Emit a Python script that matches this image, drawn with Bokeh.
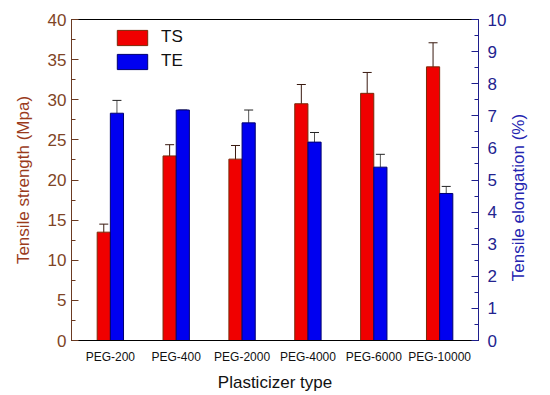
import math
from bokeh.plotting import figure
from bokeh.models import (ColumnDataSource, Range1d, LinearAxis, SingleIntervalTicker,
                          FixedTicker, Whisker, TeeHead, Legend, LegendItem, Label)
from bokeh.transform import dodge
from bokeh.embed import file_html
from bokeh.resources import INLINE

categories = ["PEG-200", "PEG-400", "PEG-2000", "PEG-4000", "PEG-6000", "PEG-10000"]
ts_values = [13.5, 23.0, 22.6, 29.5, 30.8, 34.1]
ts_errors = [1.0, 1.4, 1.7, 2.4, 2.6, 3.0]
te_values = [7.08, 7.18, 6.78, 6.18, 5.40, 4.58]
te_errors = [0.40, 0.0, 0.40, 0.30, 0.40, 0.22]

positions = list(range(len(categories)))
src = ColumnDataSource(dict(
    x=positions,
    ts=ts_values,
    ts_up=[v + e for v, e in zip(ts_values, ts_errors)],
    ts_lo=[v - e for v, e in zip(ts_values, ts_errors)],
    te=te_values,
    te_up=[v + e for v, e in zip(te_values, te_errors)],
))

FONT = "Liberation Sans"
LEFT_TICK = "#7f4526"
LEFT_TITLE = "#9a3b1c"
RIGHT_TICK = "#23238f"
RIGHT_TITLE = "#2424b0"

p = figure(width=550, height=395, output_backend="svg", toolbar_location=None,
           x_range=Range1d(-0.59, 5.59), y_range=Range1d(0, 40),
           min_border_left=71, min_border_right=72, min_border_top=19, min_border_bottom=55,
           y_axis_location=None, x_axis_location=None)
p.grid.visible = False
p.outline_line_color = "black"
p.outline_line_width = 1
p.background_fill_color = "white"
p.border_fill_color = "white"

p.extra_y_ranges = {"te": Range1d(0, 10)}

# bars
r_ts = p.vbar(x=dodge("x", -0.1), top="ts", width=0.2, source=src,
              fill_color="#f00000", line_color="#7a2a08", line_width=1)
r_te = p.vbar(x=dodge("x", 0.1), top="te", width=0.2, source=src, y_range_name="te",
              fill_color="#0000f0", line_color="#00006e", line_width=1)

# error bars
w1 = Whisker(source=src, base=dodge("x", -0.1), upper="ts_up", lower="ts_lo",
             line_color="#3a1a10", line_width=1,
             upper_head=TeeHead(size=9, line_color="#3a1a10", line_width=1), lower_head=None)
w2 = Whisker(source=src, base=dodge("x", 0.1), upper="te_up", lower="te", y_range_name="te",
             line_color="#555555", line_width=1,
             upper_head=TeeHead(size=9, line_color="#222222", line_width=1), lower_head=None)
p.add_layout(w1)
p.add_layout(w2)

# axes
bottom = LinearAxis(ticker=FixedTicker(ticks=positions),
                    major_label_overrides={i: c for i, c in zip(positions, categories)},
                    axis_label="Plasticizer type")
bottom.major_tick_in = 0
bottom.major_tick_out = 0
bottom.minor_tick_in = 0
bottom.minor_tick_out = 0
bottom.axis_line_color = "black"
bottom.major_label_text_font = FONT
bottom.major_label_text_font_size = "12px"
bottom.major_label_text_color = "#111111"
bottom.major_label_standoff = 9
bottom.axis_label_text_font = FONT
bottom.axis_label_text_font_size = "17px"
bottom.axis_label_text_font_style = "normal"
bottom.axis_label_text_color = "#111111"
bottom.axis_label_standoff = 6
p.add_layout(bottom, "below")

left = LinearAxis(ticker=SingleIntervalTicker(interval=5, num_minor_ticks=2),
                  axis_label="Tensile strength (Mpa)")
left.major_tick_in = 7
left.major_tick_out = 0
left.minor_tick_in = 4
left.minor_tick_out = 0
left.axis_line_color = "#6b3a22"
left.major_tick_line_color = "#6b3a22"
left.minor_tick_line_color = "#6b3a22"
left.major_label_text_font = FONT
left.major_label_text_font_size = "17px"
left.major_label_text_color = LEFT_TICK
left.major_label_standoff = 5
left.axis_label_text_font = FONT
left.axis_label_text_font_size = "17px"
left.axis_label_text_font_style = "normal"
left.axis_label_text_color = LEFT_TITLE
left.axis_label_standoff = 12
p.add_layout(left, "left")

right = LinearAxis(y_range_name="te", ticker=SingleIntervalTicker(interval=1, num_minor_ticks=2))
right.major_tick_in = 7
right.major_tick_out = 0
right.minor_tick_in = 4
right.minor_tick_out = 0
right.axis_line_color = "#1e1e8c"
right.major_tick_line_color = "#1e1e8c"
right.minor_tick_line_color = "#1e1e8c"
right.major_label_text_font = FONT
right.major_label_text_font_size = "17px"
right.major_label_text_color = RIGHT_TICK
right.major_label_standoff = 9
p.add_layout(right, "right")

# right-axis title, reading bottom-to-top like the reference
right_title = Label(x=518, y=197, x_units="canvas", y_units="canvas",
                    text="Tensile elongation (%)",
                    angle=math.pi / 2, text_align="center", text_baseline="middle",
                    text_font=FONT, text_font_size="17px", text_color=RIGHT_TITLE)
p.add_layout(right_title, "right")

legend = Legend(items=[LegendItem(label="TS", renderers=[r_ts]),
                       LegendItem(label="TE", renderers=[r_te])],
                location=(42, 321 - 10 - 42))
legend.margin = 0
legend.padding = 0
legend.spacing = 4
legend.glyph_width = 38
legend.glyph_height = 19
legend.label_standoff = 10
legend.label_text_font = FONT
legend.label_text_font_size = "17px"
legend.label_text_color = "#111111"
legend.border_line_color = None
legend.background_fill_alpha = 0
p.add_layout(legend, "center")

open("out.html", "w").write(file_html(p, INLINE))
